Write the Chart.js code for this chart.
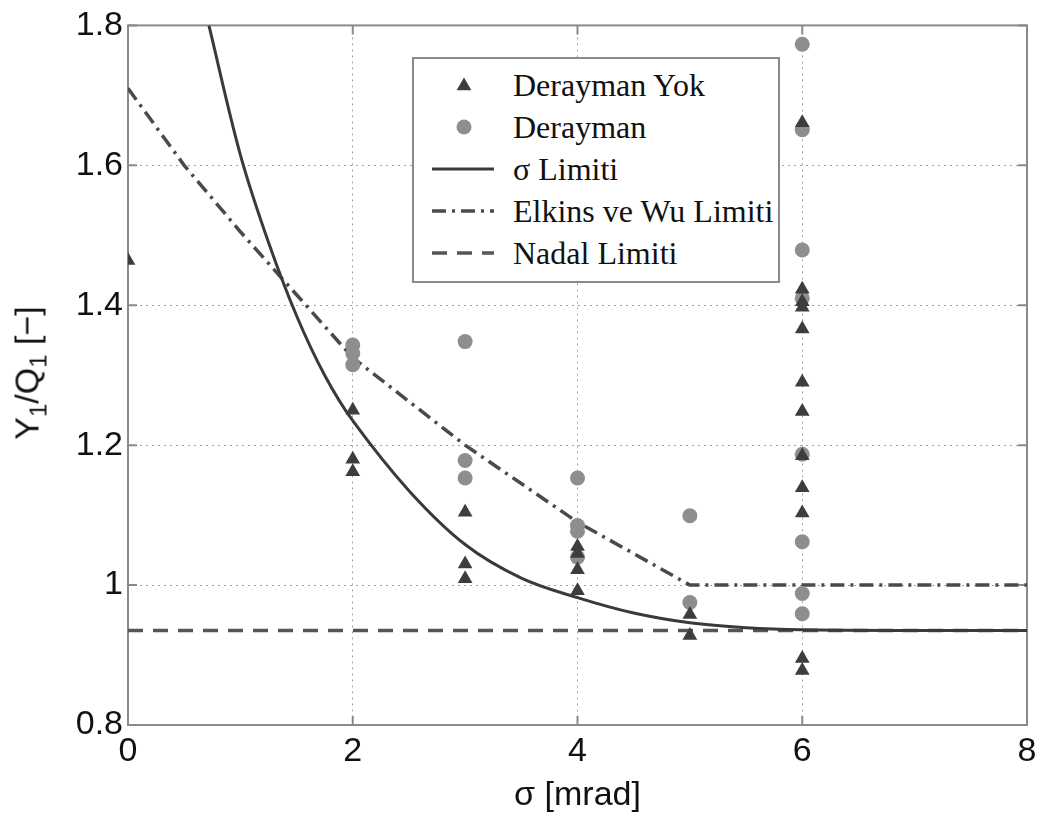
<!DOCTYPE html>
<html>
<head>
<meta charset="utf-8">
<script src="https://cdn.jsdelivr.net/npm/chart.js@4.4.1/dist/chart.umd.min.js"></script>
<style>
  html, body { margin: 0; padding: 0; background: #fff; }
  #wrap { position: relative; width: 1049px; height: 814px; }
  #legend {
    position: absolute; left: 412px; top: 57px; width: 364px; height: 217px;
    border: 2px solid #8a8a8a; background: #fff; padding-top: 5px; box-sizing: content-box;
    font-family: "Liberation Serif", "Times New Roman", serif; font-size: 32px; color: #111;
  }
  #legend .row { position: relative; height: 42px; line-height: 42px; }
  #legend svg { position: absolute; left: 16px; top: 11px; }
  #legend span { position: absolute; left: 99px; white-space: nowrap; }
  #ytitle {
    position: absolute; left: 30px; top: 373px; transform: translate(-50%, -50%) rotate(-90deg);
    font-family: "Liberation Sans", Arial, sans-serif; font-size: 34px; color: #111; white-space: nowrap;
  }
  #ytitle sub { font-size: 24px; vertical-align: -8px; }
</style>
</head>
<body>
<div id="wrap">
  <canvas id="c" width="1049" height="814"></canvas>
  <div id="ytitle">Y<sub>1</sub>/Q<sub>1</sub> [−]</div>
  <div id="legend"></div>
</div>
<script>
// tick values
const xTicks = [0, 2, 4, 6, 8];
const yTicks = [0.8, 1.0, 1.2, 1.4, 1.6, 1.8];

// Derayman Yok (triangles)
const yokX = [0, 2, 2, 2, 3, 3, 3, 4, 4, 4, 4, 5, 5, 6, 6, 6, 6, 6, 6, 6, 6, 6, 6, 6, 6];
const yokY = [1.464, 1.250, 1.180, 1.162, 1.104, 1.030, 1.009, 1.055, 1.045, 1.022, 0.992, 0.958, 0.928,
              1.661, 1.423, 1.405, 1.397, 1.366, 1.290, 1.248, 1.185, 1.139, 1.103, 0.895, 0.878];

// Derayman (circles)
const derX = [2, 2, 2, 3, 3, 3, 4, 4, 4, 4, 5, 5, 6, 6, 6, 6, 6, 6, 6, 6];
const derY = [1.343, 1.331, 1.315, 1.348, 1.178, 1.153, 1.153, 1.085, 1.077, 1.040, 1.099, 0.975,
              1.773, 1.651, 1.479, 1.410, 1.187, 1.062, 0.988, 0.959];

// sigma limit curve
const sigmaX = [0.72, 1.0, 1.25, 1.5, 1.75, 2.0, 2.5, 3.0, 3.5, 4.0, 4.5, 5.0, 5.5, 6.0, 7.0, 8.0];
const sigmaY = [1.80, 1.615, 1.49, 1.385, 1.30, 1.235, 1.135, 1.058, 1.010, 0.982, 0.960, 0.946, 0.939, 0.936, 0.935, 0.935];

// Elkins ve Wu limit
const elkinsX = [0, 0.5, 1.0, 1.5, 2.0, 3.0, 4.0, 5.0, 8.0];
const elkinsY = [1.71, 1.60, 1.505, 1.415, 1.325, 1.20, 1.09, 1.0, 1.0];

// Nadal limit
const nadalX = [0, 8];
const nadalY = [0.935, 0.935];

const pts = (xs, ys) => xs.map((x, i) => ({ x, y: ys[i] }));

const framePlugin = {
  id: 'frame',
  beforeDatasetsDraw(chart) {
    const { ctx, chartArea: a, scales: { x, y } } = chart;
    ctx.save();
    ctx.strokeStyle = '#8a8a8a';
    ctx.lineWidth = 2;
    ctx.strokeRect(a.left, a.top, a.right - a.left, a.bottom - a.top);
    ctx.beginPath();
    xTicks.forEach(v => {
      const px = x.getPixelForValue(v);
      ctx.moveTo(px, a.bottom); ctx.lineTo(px, a.bottom - 9);
      ctx.moveTo(px, a.top); ctx.lineTo(px, a.top + 9);
    });
    yTicks.forEach(v => {
      const py = y.getPixelForValue(v);
      ctx.moveTo(a.left, py); ctx.lineTo(a.left + 9, py);
      ctx.moveTo(a.right, py); ctx.lineTo(a.right - 9, py);
    });
    ctx.stroke();
    ctx.restore();
  }
};

const gridOpts = { color: '#a0a0a0', lineWidth: 1, drawTicks: false };
const borderOpts = { display: false, dash: [2, 4] };
const tickFont = { family: '"Liberation Sans", Arial, sans-serif', size: 34 };

const chart = new Chart(document.getElementById('c'), {
  type: 'scatter',
  data: {
    datasets: [
      { label: 'Derayman Yok', data: pts(yokX, yokY), pointStyle: 'triangle', pointRadius: 8.5,
        backgroundColor: '#3d3d3d', borderColor: '#3d3d3d', borderWidth: 0 },
      { label: 'Derayman', data: pts(derX, derY), pointStyle: 'circle', pointRadius: 7.5,
        backgroundColor: '#8e8e8e', borderColor: '#8e8e8e', borderWidth: 0 },
      { label: 'σ Limiti', data: pts(sigmaX, sigmaY), showLine: true, pointRadius: 0,
        borderColor: '#3a3a3a', borderWidth: 3, tension: 0.35 },
      { label: 'Elkins ve Wu Limiti', data: pts(elkinsX, elkinsY), showLine: true, pointRadius: 0,
        borderColor: '#4a4a4a', borderWidth: 3.5, borderDash: [14, 6, 3, 6], tension: 0 },
      { label: 'Nadal Limiti', data: pts(nadalX, nadalY), showLine: true, pointRadius: 0,
        borderColor: '#555555', borderWidth: 3.5, borderDash: [15, 10] }
    ]
  },
  options: {
    responsive: false,
    animation: false,
    layout: { padding: { top: 22, right: 22, left: 0, bottom: 0 } },
    plugins: { legend: { display: false }, tooltip: { enabled: false } },
    scales: {
      x: {
        type: 'linear', min: 0, max: 8,
        afterBuildTicks: s => { s.ticks = xTicks.map(v => ({ value: v })); },
        afterFit: s => { s.height = 89; },
        grid: gridOpts,
        border: borderOpts,
        ticks: { font: tickFont, color: '#111', padding: 6 },
        title: { display: true, text: 'σ [mrad]', font: { ...tickFont, lineHeight: 1 }, color: '#111',
                 padding: { top: 0, bottom: 1 } }
      },
      y: {
        type: 'linear', min: 0.8, max: 1.8,
        afterBuildTicks: s => { s.ticks = yTicks.map(v => ({ value: v })); },
        afterFit: s => { s.width = 128; },
        grid: gridOpts,
        border: borderOpts,
        ticks: { font: tickFont, color: '#111', padding: 5,
                 callback: v => String(Number(v.toFixed(1))) }
      }
    }
  },
  plugins: [framePlugin]
});

// legend built from the chart's datasets
const legend = document.getElementById('legend');
const NS = 'http://www.w3.org/2000/svg';
chart.data.datasets.forEach(ds => {
  const row = document.createElement('div');
  row.className = 'row';
  const svg = document.createElementNS(NS, 'svg');
  svg.setAttribute('width', '66'); svg.setAttribute('height', '20');
  let el;
  if (ds.showLine) {
    el = document.createElementNS(NS, 'line');
    el.setAttribute('x1', '2'); el.setAttribute('x2', '64');
    el.setAttribute('y1', '10'); el.setAttribute('y2', '10');
    el.setAttribute('stroke', ds.borderColor);
    el.setAttribute('stroke-width', ds.borderWidth);
    if (ds.borderDash) el.setAttribute('stroke-dasharray', ds.borderDash.join(' '));
  } else if (ds.pointStyle === 'triangle') {
    const r = ds.pointRadius, cx = 34, cy = 11;
    el = document.createElementNS(NS, 'polygon');
    el.setAttribute('points', [0, 120, 240].map(d => {
      const a = d * Math.PI / 180;
      return (cx + Math.sin(a) * r) + ',' + (cy - Math.cos(a) * r);
    }).join(' '));
    el.setAttribute('fill', ds.backgroundColor);
  } else {
    el = document.createElementNS(NS, 'circle');
    el.setAttribute('cx', '34'); el.setAttribute('cy', '10'); el.setAttribute('r', ds.pointRadius);
    el.setAttribute('fill', ds.backgroundColor);
  }
  svg.appendChild(el);
  const label = document.createElement('span');
  label.textContent = ds.label;
  row.appendChild(svg);
  row.appendChild(label);
  legend.appendChild(row);
});
</script>
</body>
</html>
